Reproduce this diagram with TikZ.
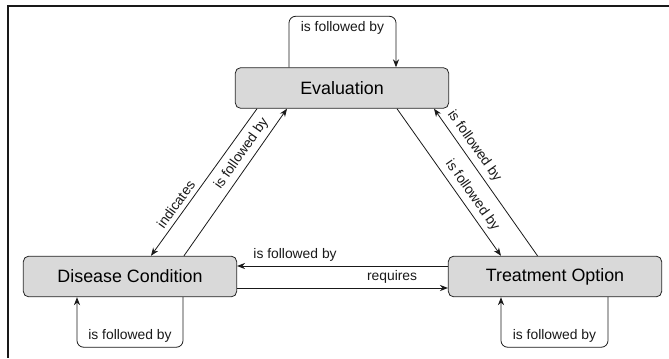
\documentclass[tikz,border=0pt]{standalone}
\usepackage{fontspec}
\setmainfont{Liberation Sans}
\usepackage{tikz}
\usetikzlibrary{arrows.meta,calc}
\definecolor{boxgray}{RGB}{217,217,217}

\begin{document}
\begin{tikzpicture}[x=0.75pt,y=-0.75pt,
  concept/.style={draw=black!85, fill=boxgray, rounded corners=4pt, line width=0.6pt,
    minimum width=160pt, minimum height=30.5pt, font=\fontsize{13.4}{16}\selectfont},
  rel/.style={font=\fontsize{10.4}{12}\selectfont},
  link/.style={-{Stealth[length=6pt,width=4.6pt]}, line width=0.6pt, black!90},
  loopy/.style={link, rounded corners=5pt}]
\useasboundingbox (0,0) rectangle (669,358);
\draw[line width=1.2pt, black!90] (669,6) -- (8,6) -- (8,358);

\node[concept] (eval) at (342,88) {Evaluation};
\node[concept] (dis)  at (130,276.5) {Disease Condition};
\node[concept] (treat) at (555,276.5) {Treatment Option};

% self loops
\draw[loopy] ($(eval.north)+(-53,0)$) -- ++(0,-51) -| node[rel, pos=0.25, below] {is followed by} ($(eval.north)+(54,0)$);
\draw[loopy] ($(dis.south)+(53,0)$) -- ++(0,50) -| node[rel, pos=0.25, above] {is followed by} ($(dis.south)+(-53,0)$);
\draw[loopy] ($(treat.south)+(53,0)$) -- ++(0,50) -| node[rel, pos=0.25, above] {is followed by} ($(treat.south)+(-54,0)$);

% between concepts
\path[link]
($(eval.south)+(-85,0)$) edge node[rel, sloped, above, pos=0.69] {indicates} ($(dis.north)+(21,0)$)
($(dis.north)+(54,0)$) edge node[rel, sloped, above, pos=0.65] {is followed by} ($(eval.south)+(-55,0)$)
($(eval.south)+(55,0)$) edge node[rel, sloped, above, pos=0.635] {is followed by} ($(treat.north)+(-54,0)$)
($(treat.north)+(-17.5,0)$) edge node[rel, sloped, above, pos=0.70] {is followed by} ($(eval.south)+(92,0)$)
($(treat.west)+(0,-10.5)$) edge node[rel, above, pos=0.725] {is followed by} ($(dis.east)+(0,-10.5)$)
($(dis.east)+(0,11.5)$) edge node[rel, above, pos=0.735] {requires} ($(treat.west)+(0,11.5)$)
; %end path
\end{tikzpicture}
\end{document}
